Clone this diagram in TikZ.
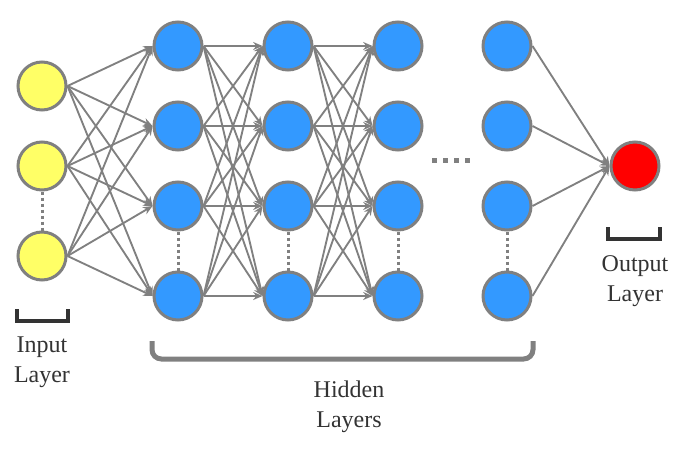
\documentclass[tikz,border=0pt]{standalone}
\usepackage{fontspec}
\setmainfont{Liberation Serif}
\usetikzlibrary{arrows.meta}
\definecolor{ylw}{HTML}{FFFF66}
\definecolor{blu}{HTML}{3399FF}
\definecolor{rd}{HTML}{FF0000}
\definecolor{edgegray}{HTML}{808080}
\definecolor{txt}{HTML}{333333}
\tikzset{
  neuron/.style={circle, draw=edgegray, line width=2.25pt, minimum size=36pt, inner sep=0pt},
  inp/.style={neuron, fill=ylw},
  hid/.style={neuron, fill=blu},
  outp/.style={neuron, fill=rd},
  conn/.style={draw=edgegray, line width=1.4pt, -{Stealth[length=7pt,width=6pt]}},
  vdots/.style={draw=edgegray, line width=2.25pt, dash pattern=on 2.25pt off 2.25pt},
  lbl/.style={text=txt, font=\fontsize{18pt}{22.5pt}\selectfont, inner sep=0pt, anchor=base},
  bracketdark/.style={draw=txt, line width=2.5pt},
}
\begin{document}
\begin{tikzpicture}[x=0.75pt, y=-0.75pt]
\useasboundingbox (0,0) rectangle (684,453);
% input layer
\node[inp] (i1) at (42,86) {};
\node[inp] (i2) at (42,166) {};
\node[inp] (i3) at (42,256) {};
% hidden layers
\foreach \l/\x in {1/178, 2/288, 3/398, 4/507}{
  \foreach \r/\y in {1/46, 2/126, 3/206, 4/296}{
    \node[hid] (h\l\r) at (\x,\y) {};
  }
}
% output
\node[outp] (o) at (635,166) {};
% connections
\foreach \a in {1,2,3}{
  \foreach \b in {1,2,3,4}{
    \draw[conn] (i\a.east) -- (h1\b.west);
  }
}
\foreach \a in {1,2,3,4}{
  \foreach \b in {1,2,3,4}{
    \draw[conn] (h1\a.east) -- (h2\b.west);
    \draw[conn] (h2\a.east) -- (h3\b.west);
  }
}
\foreach \a in {1,2,3,4}{
  \draw[conn] (h4\a.east) -- (o.west);
}
% vertical dots
\draw[vdots] (i2.south) -- (i3.north);
\foreach \l in {1,2,3,4}{
  \draw[vdots] (h\l3.south) -- (h\l4.north);
}
% horizontal dots
\coordinate (hd1) at (432,160);
\coordinate (hd2) at (470,160);
\draw[draw=edgegray, line width=3.75pt, dash pattern=on 3.75pt off 4.5pt] (hd1) -- (hd2);
% brackets
\coordinate (ib1) at (17,309);
\coordinate (ib2) at (68,309);
\draw[bracketdark] (ib1) -- ++(0,12) -| (ib2);
\coordinate (ob1) at (608,227);
\coordinate (ob2) at (660,227);
\draw[bracketdark] (ob1) -- ++(0,12) -| (ob2);
\coordinate (hb1) at (152,341);
\coordinate (hb2) at (533,341);
\draw[draw=edgegray, line width=3.75pt, rounded corners=7pt] (hb1) -- ++(0,18) -| (hb2);
% labels
\node[lbl] (tin1) at (42,352) {Input};
\node[lbl] (tin2) at (42,382) {Layer};
\node[lbl] (tout1) at (635,271) {Output};
\node[lbl] (tout2) at (635,301) {Layer};
\node[lbl] (thid1) at (349,397) {Hidden};
\node[lbl] (thid2) at (349,427) {Layers};
\end{tikzpicture}
\end{document}
